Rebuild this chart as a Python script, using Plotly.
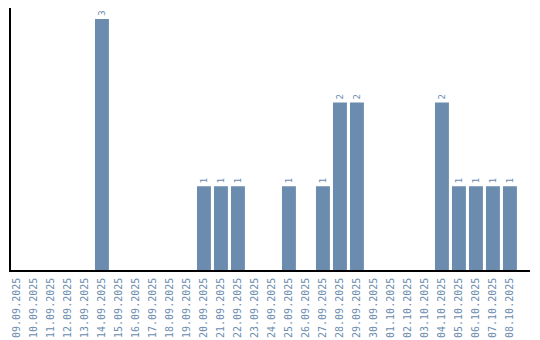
import plotly.graph_objects as go

dates = ["09.09.2025", "10.09.2025", "11.09.2025", "12.09.2025", "13.09.2025",
         "14.09.2025", "15.09.2025", "16.09.2025", "17.09.2025", "18.09.2025",
         "19.09.2025", "20.09.2025", "21.09.2025", "22.09.2025", "23.09.2025",
         "24.09.2025", "25.09.2025", "26.09.2025", "27.09.2025", "28.09.2025",
         "29.09.2025", "30.09.2025", "01.10.2025", "02.10.2025", "03.10.2025",
         "04.10.2025", "05.10.2025", "06.10.2025", "07.10.2025", "08.10.2025"]
counts = [0, 0, 0, 0, 0, 3, 0, 0, 0, 0,
          0, 1, 1, 1, 0, 0, 1, 0, 1, 2,
          2, 0, 0, 0, 0, 2, 1, 1, 1, 1]

color = "#6b8cae"
labels = [str(v) if v > 0 else "" for v in counts]

fig = go.Figure(go.Bar(
    x=dates, y=counts, marker_color=color, marker_line_width=0,
    text=labels, textposition="outside", textangle=-90,
    textfont=dict(family="DejaVu Sans Mono", size=9, color=color),
    cliponaxis=False,
))
fig.update_layout(
    width=540, height=340,
    margin=dict(l=11, r=10, t=8, b=70, autoexpand=False),
    plot_bgcolor="white", paper_bgcolor="white",
    bargap=0.18, showlegend=False,
)
fig.update_xaxes(
    type="category", range=[-0.35, 30.18], automargin=False,
    showline=True, linecolor="black", linewidth=1.5,
    showgrid=False, ticks="", tickangle=-90, ticklabelstandoff=2,
    tickfont=dict(family="DejaVu Sans Mono", size=10, color=color),
)
fig.update_yaxes(
    range=[0, 3.13], showline=True, linecolor="black", linewidth=1.5,
    showgrid=False, showticklabels=False, ticks="", zeroline=False,
    automargin=False,
)
fig.write_html("out.html")
